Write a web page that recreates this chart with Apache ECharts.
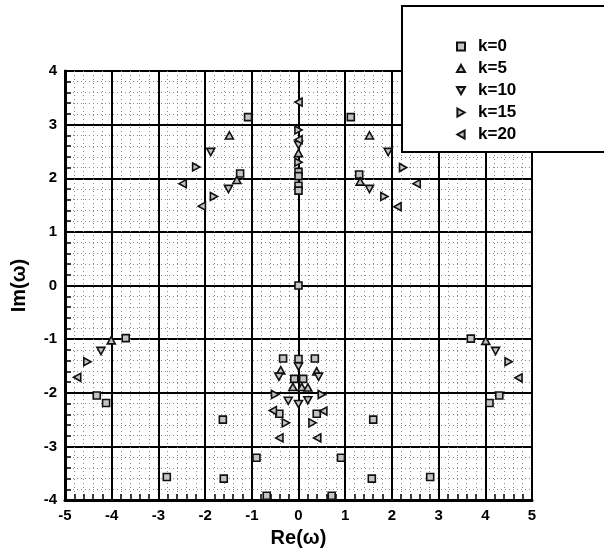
<!DOCTYPE html>
<html>
<head>
<meta charset="utf-8">
<script src="https://cdn.jsdelivr.net/npm/echarts@6/dist/echarts.min.js"></script>
<style>html,body{margin:0;padding:0;background:#fff;overflow:hidden;}#c{width:604px;height:553px;}</style>
</head>
<body>
<div id="c"></div>
<script>
// k=0 (squares)
var k0 = [[-1.08,3.14],[1.12,3.14],[-1.25,2.09],[1.30,2.07],[0,2.12],[0,2.04],[0,1.86],[0,1.77],[0,0],
  [-3.70,-0.98],[3.69,-0.99],[-4.32,-2.05],[4.30,-2.05],[-4.12,-2.19],[4.09,-2.19],[-2.82,-3.57],[2.82,-3.57],
  [-1.62,-2.50],[1.60,-2.50],[-0.90,-3.21],[0.91,-3.21],[-1.60,-3.60],[1.57,-3.60],[-0.68,-3.92],[0.71,-3.92],
  [-0.33,-1.36],[0.35,-1.36],[0,-1.37],[-0.09,-1.74],[0.10,-1.74],[-0.41,-2.39],[0.39,-2.39]];
// k=5 (up triangles)
var k5 = [[-1.48,2.80],[1.52,2.80],[-1.32,1.97],[1.32,1.94],[0,2.47],
  [-4.01,-1.02],[4.01,-1.03],[-0.38,-1.58],[0.39,-1.60],[-0.12,-1.89],[0.07,-1.89],[0.20,-1.90]];
// k=10 (down triangles)
var k10 = [[-1.88,2.49],[1.92,2.49],[-1.50,1.80],[1.52,1.80],[0,2.62],
  [-4.23,-1.22],[4.22,-1.22],[-0.42,-1.70],[0.43,-1.70],[-0.22,-2.15],[0.20,-2.14],[0,-2.21],[0,-1.51]];
// k=15 (right triangles)
var k15 = [[-2.19,2.21],[2.24,2.20],[-1.81,1.66],[1.84,1.66],[0,2.90],[0,2.30],
  [-4.52,-1.42],[4.50,-1.42],[-0.50,-2.03],[0.50,-2.03],[-0.27,-2.56],[0.30,-2.56]];
// k=20 (left triangles)
var k20 = [[-2.48,1.90],[2.53,1.90],[-2.07,1.48],[2.12,1.47],[0,3.42],[0,2.72],
  [-4.74,-1.71],[4.71,-1.72],[-0.55,-2.33],[0.53,-2.34],[-0.41,-2.84],[0.40,-2.84]];
var seriesNames = ['k=0','k=5','k=10','k=15','k=20'];
var xTicks = [-5,-4,-3,-2,-1,0,1,2,3,4,5];
var yTicks = [-4,-3,-2,-1,0,1,2,3,4];

var SYM = {
  sq: 'rect',
  up: 'path://M5,0 L10,9 L0,9 Z',
  down: 'path://M0,0 L10,0 L5,9 Z',
  right: 'path://M0,0 L9,5 L0,10 Z',
  left: 'path://M9,0 L9,10 L0,5 Z'
};

var chart = echarts.init(document.getElementById('c'), null, {renderer:'canvas'});
var font = 'Liberation Sans, Arial, sans-serif';
function mk(name, data, symbol){
  return {name:name, type:'scatter', data:data, symbol:symbol, symbolSize: symbol==='rect'?7:8,
    symbolKeepAspect:true,
    itemStyle:{color:'#c4c4c4', borderColor:'#111', borderWidth:1.6, opacity:1}, z:5};
}
var axisCommon = {
  axisLine:{onZero:false, lineStyle:{color:'#000', width:3}},
  axisTick:{inside:true, length:7, lineStyle:{color:'#000', width:2}},
  minorTick:{show:true, splitNumber:5, length:6, lineStyle:{color:'#000', width:1.5}},
  splitLine:{show:true, lineStyle:{color:'#000', width:2}},
  minorSplitLine:{show:true, lineStyle:{color:'#8a8a8a', width:1, type:[1,3]}}
};
chart.setOption({
  animation:false,
  backgroundColor:'#fff',
  grid:{left:65, top:71, width:467, height:437, show:true, borderColor:'#000', borderWidth:2, backgroundColor:'transparent'},
  xAxis:Object.assign({type:'value', min:xTicks[0], max:xTicks[xTicks.length-1], interval:1,
    name:'Re(\u03c9)', nameLocation:'middle', nameGap:27,
    nameTextStyle:{color:'#000', fontFamily:font, fontWeight:'bold', fontSize:20}}, axisCommon,
    {axisLabel:{color:'#000', fontFamily:font, fontWeight:'bold', fontSize:15, margin:8}}),
  yAxis:Object.assign({type:'value', min:yTicks[0], max:yTicks[yTicks.length-1], interval:1,
    name:'Im(\u03c9)', nameLocation:'middle', nameGap:36, nameRotate:90,
    nameTextStyle:{color:'#000', fontFamily:font, fontWeight:'bold', fontSize:20}}, axisCommon,
    {axisLabel:{color:'#000', fontFamily:font, fontWeight:'bold', fontSize:15, margin:8}}),
  graphic:[
    {type:'rect', shape:{x:402, y:6, width:202, height:146}, style:{fill:'#fff', stroke:null}, z:100},
    {type:'polyline', shape:{points:[[604,6],[402,6],[402,152],[604,152]]}, style:{fill:null, stroke:'#000', lineWidth:2}, z:101}
  ],
  legend:{orient:'vertical', left:451, top:33, itemWidth:8, itemHeight:8, itemGap:5, z:200,
    data:seriesNames,
    textStyle:{color:'#000', fontFamily:font, fontWeight:'bold', fontSize:17, lineHeight:17, padding:[0,0,0,8]}},
  series:[
    mk(seriesNames[0], k0, SYM.sq),
    mk(seriesNames[1], k5, SYM.up),
    mk(seriesNames[2], k10, SYM.down),
    mk(seriesNames[3], k15, SYM.right),
    mk(seriesNames[4], k20, SYM.left)
  ]
});
</script>
</body>
</html>
